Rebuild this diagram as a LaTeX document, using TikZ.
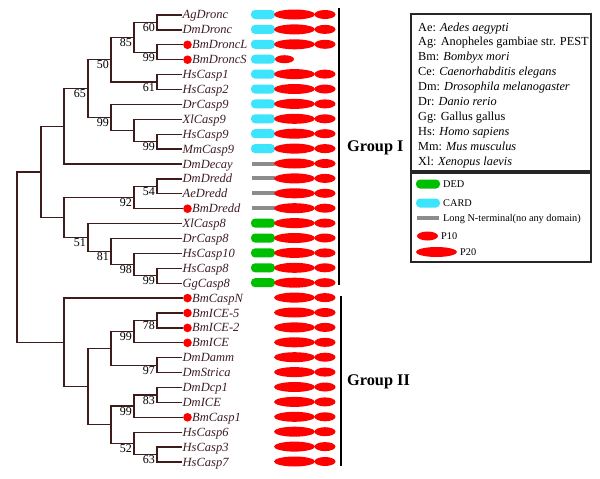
\documentclass[tikz,border=0pt]{standalone}
\usepackage{fontspec}
\setmainfont{Liberation Serif}
\usetikzlibrary{shapes.geometric}
\definecolor{treecol}{RGB}{62,28,28}
\definecolor{leafcol}{RGB}{62,28,36}
\definecolor{cardcol}{RGB}{60,228,252}
\definecolor{dedcol}{RGB}{0,190,0}
\definecolor{ntcol}{RGB}{140,140,140}
\definecolor{redcol}{RGB}{255,0,0}
\tikzset{
 branch/.style={draw=treecol, line width=1.3pt},
 leaf/.style={anchor=base west, inner sep=0pt, font=\fontsize{12.5}{14}\selectfont\itshape, text=leafcol},
 boot/.style={anchor=north east, inner sep=1pt, font=\fontsize{12}{14}\selectfont},
 bmdot/.style={circle, fill=redcol, minimum size=8.6pt, inner sep=0pt},
 p20/.style={ellipse, fill=redcol, minimum width=41pt, minimum height=10pt, inner sep=0pt},
 p10/.style={ellipse, fill=redcol, minimum width=21pt, minimum height=9pt, inner sep=0pt},
 cardbox/.style={rectangle, rounded corners=4pt, fill=cardcol, minimum width=24pt, minimum height=9pt, inner sep=0pt},
 dedbox/.style={cardbox, fill=dedcol},
 ntbar/.style={rectangle, fill=ntcol, minimum width=23pt, minimum height=4pt, inner sep=0pt},
 groupbar/.style={line width=2.6pt, draw=black},
 grouplabel/.style={anchor=base west, inner sep=0pt, font=\fontsize{16.3}{18}\selectfont\bfseries},
 legbox/.style={draw=black!85, line width=1.8pt},
 legtext/.style={anchor=base west, inner sep=0pt, font=\fontsize{12.3}{14}\selectfont},
 legsmall/.style={anchor=base west, inner sep=0pt, font=\fontsize{10.3}{12}\selectfont},
}
\begin{document}
\begin{tikzpicture}[x=1pt,y=-1pt]
\useasboundingbox (0,0) rectangle (600,479);
% leaves, dots and domains
\foreach \i/\nm/\dt/\dm in {0/AgDronc/0/1, 1/DmDronc/0/1, 2/BmDroncL/1/1, 3/BmDroncS/1/2, 4/HsCasp1/0/1, 5/HsCasp2/0/1, 6/DrCasp9/0/1, 7/XlCasp9/0/1, 8/HsCasp9/0/1, 9/MmCasp9/0/1, 10/DmDecay/0/3, 11/DmDredd/0/3, 12/AeDredd/0/3, 13/BmDredd/1/3, 14/XlCasp8/0/4, 15/DrCasp8/0/4, 16/HsCasp10/0/4, 17/HsCasp8/0/4, 18/GgCasp8/0/4, 19/BmCaspN/1/0, 20/BmICE-5/1/0, 21/BmICE-2/1/0, 22/BmICE/1/0, 23/DmDamm/0/0, 24/DmStrica/0/0, 25/DmDcp1/0/0, 26/DmICE/0/0, 27/BmCasp1/1/0, 28/HsCasp6/0/0, 29/HsCasp3/0/0, 30/HsCasp7/0/0}{
  \pgfmathsetmacro\yy{15+14.9*\i}
  \pgfmathsetmacro\yb{\yy+4}
  \ifnum\dt=1
    \coordinate (l\i) at (183,\yy);
    \node[bmdot] (m\i) at (187.5,\yy) {};
    \node[leaf] (t\i) at (192,\yb) {\nm};
  \else
    \coordinate (l\i) at (182,\yy);
    \node[leaf] (t\i) at (182.5,\yb) {\nm};
  \fi
  \ifnum\dm=1 \node[cardbox] (n\i) at (263,\yy-0.5) {}; \fi
  \ifnum\dm=4 \node[dedbox] (n\i) at (263,\yy-0.5) {}; \fi
  \ifnum\dm=3 \node[ntbar] (n\i) at (263.5,\yy-0.5) {}; \fi
  \ifnum\dm=2
    \node[cardbox] (n\i) at (263,\yy-0.5) {};
    \node[p10, minimum width=19pt, minimum height=8pt] (q\i) at (284.5,\yy-0.5) {};
  \else
    \node[p20] (p\i) at (294.5,\yy-0.5) {};
    \node[p10] (q\i) at (325,\yy-0.5) {};
  \fi
}
% internal nodes
\coordinate (a1) at (157,22.45);
\coordinate (a2) at (157,52.25);
\coordinate (a3) at (134,37.35);
\coordinate (a4) at (157,82.05);
\coordinate (a5) at (111,59.7);
\coordinate (a6) at (157,141.65);
\coordinate (a7) at (134,130.475);
\coordinate (a8) at (111,117.44);
\coordinate (a9) at (88,88.57);
\coordinate (a10) at (64,126.28);
\coordinate (b1) at (157,186.35);
\coordinate (b2) at (134,197.525);
\coordinate (b3) at (157,275.75);
\coordinate (b4) at (134,264.575);
\coordinate (b5) at (111,251.54);
\coordinate (b6) at (88,237.57);
\coordinate (b7) at (64,217.55);
\coordinate (b8) at (41,171.91);
\coordinate (c1) at (157,320.45);
\coordinate (c2) at (134,331.625);
\coordinate (c3) at (157,365.15);
\coordinate (c4) at (111,348.39);
\coordinate (c5) at (157,394.95);
\coordinate (c6) at (134,406.125);
\coordinate (c7) at (157,454.55);
\coordinate (c8) at (134,443.375);
\coordinate (c9) at (111,424.75);
\coordinate (c10) at (88,386.57);
\coordinate (c11) at (64,342.33);
\coordinate (root) at (17,257.12);
% branches
\draw[branch] (a1) |- (l0) (a1) |- (l1)
  (a2) |- (l2) (a2) |- (l3)
  (a3) |- (a1) (a3) |- (a2)
  (a4) |- (l4) (a4) |- (l5)
  (a5) |- (a3) (a5) |- (a4)
  (a6) |- (l8) (a6) |- (l9)
  (a7) |- (l7) (a7) |- (a6)
  (a8) |- (l6) (a8) |- (a7)
  (a9) |- (a5) (a9) |- (a8)
  (a10) |- (a9) (a10) |- (l10)
  (b1) |- (l11) (b1) |- (l12)
  (b2) |- (b1) (b2) |- (l13)
  (b3) |- (l17) (b3) |- (l18)
  (b4) |- (l16) (b4) |- (b3)
  (b5) |- (l15) (b5) |- (b4)
  (b6) |- (l14) (b6) |- (b5)
  (b7) |- (b2) (b7) |- (b6)
  (b8) |- (a10) (b8) |- (b7)
  (c1) |- (l20) (c1) |- (l21)
  (c2) |- (c1) (c2) |- (l22)
  (c3) |- (l23) (c3) |- (l24)
  (c4) |- (c2) (c4) |- (c3)
  (c5) |- (l25) (c5) |- (l26)
  (c6) |- (c5) (c6) |- (l27)
  (c7) |- (l29) (c7) |- (l30)
  (c8) |- (l28) (c8) |- (c7)
  (c9) |- (c6) (c9) |- (c8)
  (c10) |- (c4) (c10) |- (c9)
  (c11) |- (l19) (c11) |- (c10)
  (root) |- (b8) (root) |- (c11);
% bootstrap values
\foreach \n/\v in {a1/60, a2/99, a3/85, a4/61, a5/50, a6/99, a8/99, a9/65, b1/54, b2/92, b3/99, b4/98, b5/81, b6/51, c1/78, c2/99, c3/97, c5/83, c6/99, c7/63, c8/52}{
  \node[boot] (bs-\n) at ([xshift=-1pt]\n) {\v};
}
% group bars and labels
\coordinate (g1t) at (339,8);
\coordinate (g1b) at (339,285);
\coordinate (g2t) at (341,296);
\coordinate (g2b) at (341,466);
\draw[groupbar] (g1t) -- (g1b);
\draw[groupbar] (g2t) -- (g2b);
\node[grouplabel] (gI) at (347,151.7) {Group I};
\node[grouplabel] (gII) at (347,385) {Group II};
% legend box 1
\draw[legbox] (411,14) rectangle (591,171);
\foreach \k/\t in {0/{Ae: \textit{Aedes aegypti}}, 1/{Ag: Anopheles gambiae str. PEST}, 2/{Bm: \textit{Bombyx mori}}, 3/{Ce: \textit{Caenorhabditis elegans}}, 4/{Dm: \textit{Drosophila melanogaster}}, 5/{Dr: \textit{Danio rerio}}, 6/{Gg: Gallus gallus}, 7/{Hs: \textit{Homo sapiens}}, 8/{Mm: \textit{Mus musculus}}, 9/{Xl: \textit{Xenopus laevis}}}{
  \pgfmathsetmacro\ly{31+14.9*\k}
  \node[legtext] (sp\k) at (418,\ly) {\t};
}
% legend box 2
\draw[legbox] (411,173) rectangle (591,262);
\node[dedbox] (kded) at (428,184) {};
\node[legsmall] (tded) at (443,187.5) {DED};
\node[cardbox] (kcard) at (428,203) {};
\node[legsmall] (tcard) at (443,206.5) {CARD};
\node[ntbar, minimum width=22pt] (knt) at (428,218) {};
\node[legsmall] (tnt) at (443,221.5) {Long N-terminal(no any domain)};
\node[p10] (kp10) at (427.5,236) {};
\node[legsmall] (tp10) at (441,239.5) {P10};
\node[p20] (kp20) at (436.5,252) {};
\node[legsmall] (tp20) at (460,255.5) {P20};
\end{tikzpicture}
\end{document}
